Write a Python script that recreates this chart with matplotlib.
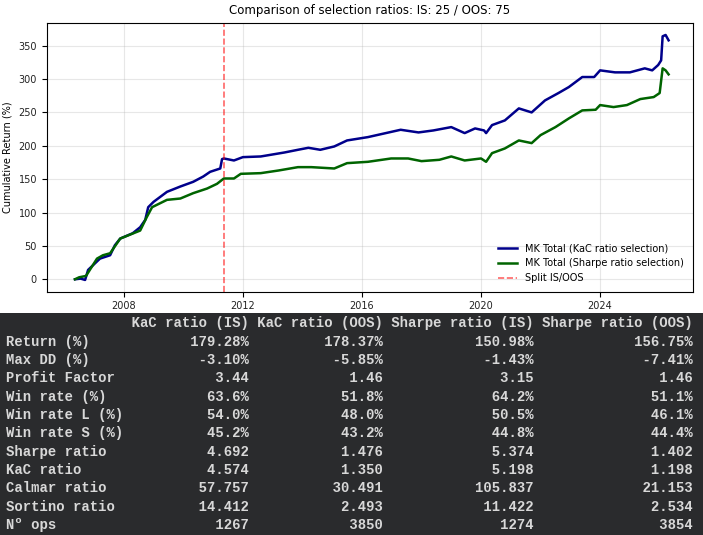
import matplotlib
matplotlib.use('Agg')
import matplotlib.pyplot as plt
from matplotlib.patches import Rectangle

# MK Total (KaC ratio selection) - fechas en años decimales
kac_years = [2006.36, 2006.55, 2006.7, 2006.8, 2007.2, 2007.54, 2007.7, 2007.88, 2008.3,
             2008.55, 2008.72, 2008.82, 2009.0, 2009.45, 2009.9, 2010.33, 2010.67, 2010.9,
             2011.24, 2011.3, 2011.36, 2011.7, 2012.0, 2012.6, 2013.4, 2013.85, 2014.2,
             2014.6, 2015.07, 2015.5, 2016.2, 2016.9, 2017.3, 2017.9, 2018.4, 2019.0,
             2019.45, 2019.8, 2020.1, 2020.17, 2020.37, 2020.8, 2021.27, 2021.7, 2022.15,
             2022.6, 2022.95, 2023.4, 2023.8, 2024.0, 2024.5, 2025.0, 2025.5, 2025.75,
             2025.95, 2026.05, 2026.1, 2026.2, 2026.3]
kac_values = [0, 1, -1, 14, 31, 36, 51, 61, 69,
              78, 89, 108, 116, 131, 139, 146, 154, 161,
              166, 180, 181, 178, 183, 184, 190, 194, 197,
              194, 199, 208, 213, 220, 224, 220, 223, 228,
              219, 226, 223, 219, 231, 238, 256, 250, 268,
              279, 288, 303, 303, 313, 310, 310, 316, 313,
              321, 328, 364, 366, 358]

# MK Total (Sharpe ratio selection)
sharpe_years = [2006.36, 2006.5, 2006.73, 2007.1, 2007.3, 2007.54, 2007.88, 2008.55, 2008.77,
                2008.95, 2009.45, 2009.9, 2010.33, 2010.8, 2011.13, 2011.36, 2011.7, 2011.93,
                2012.6, 2013.2, 2013.85, 2014.3, 2015.07, 2015.5, 2016.2, 2016.98, 2017.55,
                2018.0, 2018.6, 2019.0, 2019.45, 2020.0, 2020.17, 2020.37, 2020.8, 2021.27,
                2021.7, 2022.0, 2022.5, 2022.95, 2023.4, 2023.85, 2024.0, 2024.45, 2024.9,
                2025.35, 2025.8, 2026.0, 2026.1, 2026.2, 2026.3]
sharpe_values = [0, 3, 5, 31, 36, 39, 61, 73, 93,
                 108, 119, 121, 129, 136, 143, 151, 151, 158,
                 159, 163, 168, 168, 166, 174, 176, 181, 181,
                 177, 179, 184, 178, 181, 176, 189, 196, 208,
                 204, 216, 228, 241, 253, 254, 261, 258, 261,
                 270, 273, 279, 316, 313, 307]

split_year = 2011.36
year_ticks = [2008, 2012, 2016, 2020, 2024]

# Tabla de métricas
row_names = ['Return (%)', 'Max DD (%)', 'Profit Factor', 'Win rate (%)', 'Win rate L (%)',
             'Win rate S (%)', 'Sharpe ratio', 'KaC ratio', 'Calmar ratio', 'Sortino ratio',
             'N\u00ba ops']
col_names = ['KaC ratio (IS)', 'KaC ratio (OOS)', 'Sharpe ratio (IS)', 'Sharpe ratio (OOS)']
kac_is = ['179.28%', '-3.10%', '3.44', '63.6%', '54.0%', '45.2%', '4.692', '4.574',
          '57.757', '14.412', '1267']
kac_oos = ['178.37%', '-5.85%', '1.46', '51.8%', '48.0%', '43.2%', '1.476', '1.350',
           '30.491', '2.493', '3850']
sharpe_is = ['150.98%', '-1.43%', '3.15', '64.2%', '50.5%', '44.8%', '5.374', '5.198',
             '105.837', '11.422', '1274']
sharpe_oos = ['156.75%', '-7.41%', '1.46', '51.1%', '46.1%', '44.4%', '1.402', '1.198',
              '21.153', '2.534', '3854']

W, H = 703, 535
fig = plt.figure(figsize=(W / 100, H / 100), dpi=100)

# Gráfico
ax = fig.add_axes([46.7 / W, 1 - 291.7 / H, 646 / W, 269 / H])
ax.plot(kac_years, kac_values, color='darkblue', linewidth=1.8,
        label='MK Total (KaC ratio selection)')
ax.plot(sharpe_years, sharpe_values, color='darkgreen', linewidth=1.8,
        label='MK Total (Sharpe ratio selection)')
ax.axvline(split_year, color='red', linestyle='--', linewidth=1.2, alpha=0.6,
           label='Split IS/OOS')
ax.set_xlim(2005.41, 2027.11)
ax.set_ylim(-18.6, 384.4)
ax.set_xticks(year_ticks)
ax.set_xticklabels([str(y) for y in year_ticks])
ax.tick_params(labelsize=7, labelcolor='#222222')
ax.set_ylabel('Cumulative Return (%)', fontsize=7)
ax.set_title('Comparison of selection ratios: IS: 25 / OOS: 75', fontsize=8.5)
ax.grid(True, alpha=0.3)
ax.legend(loc='lower right', fontsize=7, frameon=False)

# Tabla (estilo consola)
fig.patches.append(Rectangle((0, 0), 1, 1 - 313 / H, transform=fig.transFigure,
                             facecolor='#2a2b2d', edgecolor='none', zorder=0))
lines = [f"{'':<14} {col_names[0]:>14} {col_names[1]:>15} {col_names[2]:>17} {col_names[3]:>18}"]
for i, name in enumerate(row_names):
    lines.append(f"{name:<14} {kac_is[i]:>14} {kac_oos[i]:>15} {sharpe_is[i]:>17} {sharpe_oos[i]:>18}")
for i, line in enumerate(lines):
    y = 1 - (323.3 + i * 18.34) / H
    fig.text(6 / W, y, line, family='Liberation Mono', fontsize=10, fontweight='bold',
             color='#d8d8d8', ha='left', va='center')

fig.savefig('out.png', dpi=100)
